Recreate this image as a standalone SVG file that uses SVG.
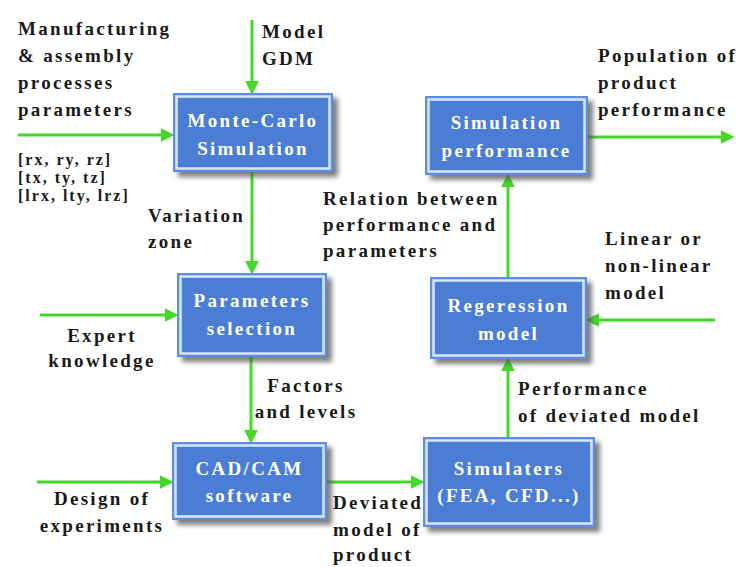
<svg xmlns="http://www.w3.org/2000/svg" width="736" height="567" viewBox="0 0 736 567">
<defs>
<style>
.t{font-family:"Liberation Serif","Times New Roman",serif;font-weight:bold;font-size:19px;fill:#1a1a1a;letter-spacing:2.3px}
.s{font-size:16px;letter-spacing:2px}
.m{text-anchor:middle}
.bt{font-family:"Liberation Serif","Times New Roman",serif;font-weight:bold;font-size:19px;fill:#ffffff;letter-spacing:2.3px;text-anchor:middle}
.o{fill:#5b8fe2}
.w{fill:none;stroke:#d6e5f8;stroke-width:2.5}
.i{fill:#4a7dd3}
.c{stroke:#44d82a;stroke-width:3;fill:none;marker-end:url(#ah)}
</style>
<filter id="sh" x="-10%" y="-10%" width="130%" height="140%">
<feDropShadow dx="5" dy="5" stdDeviation="2.5" flood-color="#555" flood-opacity="0.75"/>
</filter>
<marker id="ah" markerUnits="userSpaceOnUse" markerWidth="14" markerHeight="14" viewBox="0 0 12 12" refX="2" refY="6" orient="auto">
<path d="M0,0 L12,6 L0,12 z" fill="#44d82a"/>
</marker>
</defs>
<rect width="736" height="567" fill="#ffffff"/>

<g id="connectors">
<line class="c" x1="252" y1="20" x2="252" y2="83"/>
<line class="c" x1="18" y1="135" x2="163" y2="135"/>
<line class="c" x1="252" y1="172" x2="252" y2="263"/>
<line class="c" x1="40" y1="315" x2="167" y2="315"/>
<line class="c" x1="251" y1="357" x2="251" y2="432"/>
<line class="c" x1="37" y1="482" x2="162" y2="482"/>
<line class="c" x1="327" y1="482" x2="413" y2="482"/>
<line class="c" x1="508" y1="437" x2="508" y2="369"/>
<line class="c" x1="715" y1="320" x2="597" y2="320"/>
<line class="c" x1="508" y1="277" x2="508" y2="185"/>
<line class="c" x1="588" y1="137" x2="723" y2="137"/>
</g>

<g id="monte-carlo">
<g filter="url(#sh)"><rect class="o" x="173" y="93" width="160" height="79"/></g>
<rect class="w" x="176.5" y="96.5" width="153" height="72"/>
<rect class="i" x="178" y="98" width="150" height="69"/>
<text class="bt" x="253" y="127">Monte-Carlo</text>
<text class="bt" x="253" y="155">Simulation</text>
</g>

<g id="simulation-performance">
<g filter="url(#sh)"><rect class="o" x="425" y="96" width="163" height="79"/></g>
<rect class="w" x="428.5" y="99.5" width="156" height="72"/>
<rect class="i" x="430" y="101" width="153" height="69"/>
<text class="bt" x="506.5" y="129">Simulation</text>
<text class="bt" x="506.5" y="157">performance</text>
</g>

<g id="parameters-selection">
<g filter="url(#sh)"><rect class="o" x="177" y="273" width="150" height="84"/></g>
<rect class="w" x="180.5" y="276.5" width="143" height="77"/>
<rect class="i" x="182" y="278" width="140" height="74"/>
<text class="bt" x="252" y="307">Parameters</text>
<text class="bt" x="252" y="335">selection</text>
</g>

<g id="regression-model">
<g filter="url(#sh)"><rect class="o" x="430" y="277" width="157" height="82"/></g>
<rect class="w" x="433.5" y="280.5" width="150" height="75"/>
<rect class="i" x="435" y="282" width="147" height="72"/>
<text class="bt" x="508.5" y="312">Regeression</text>
<text class="bt" x="508.5" y="340">model</text>
</g>

<g id="cad-cam">
<g filter="url(#sh)"><rect class="o" x="172" y="442" width="155" height="78"/></g>
<rect class="w" x="175.5" y="445.5" width="148" height="71"/>
<rect class="i" x="177" y="447" width="145" height="68"/>
<text class="bt" x="249.5" y="475">CAD/CAM</text>
<text class="bt" x="249.5" y="502">software</text>
</g>

<g id="simulaters">
<g filter="url(#sh)"><rect class="o" x="423" y="437" width="172" height="90"/></g>
<rect class="w" x="426.5" y="440.5" width="165" height="83"/>
<rect class="i" x="428" y="442" width="162" height="80"/>
<text class="bt" x="509" y="475">Simulaters</text>
<text class="bt" x="509" y="502">(FEA, CFD...)</text>
</g>

<g id="labels">
<text class="t" x="18" y="35">Manufacturing</text>
<text class="t" x="18" y="62">&amp; assembly</text>
<text class="t" x="18" y="89">processes</text>
<text class="t" x="18" y="116">parameters</text>
<text class="t s" x="18" y="165">[rx, ry, rz]</text>
<text class="t s" x="18" y="183">[tx, ty, tz]</text>
<text class="t s" x="18" y="201">[lrx, lty, lrz]</text>
<text class="t" x="262" y="38">Model</text>
<text class="t" x="262" y="65">GDM</text>
<text class="t" x="148" y="222">Variation</text>
<text class="t" x="148" y="248">zone</text>
<text class="t m" x="102" y="342">Expert</text>
<text class="t m" x="102" y="367">knowledge</text>
<text class="t m" x="306" y="392">Factors</text>
<text class="t m" x="306" y="418">and levels</text>
<text class="t m" x="102" y="505">Design of</text>
<text class="t m" x="102" y="532">experiments</text>
<text class="t" x="333" y="509">Deviated</text>
<text class="t" x="333" y="536">model of</text>
<text class="t" x="333" y="561">product</text>
<text class="t" x="518" y="395">Performance</text>
<text class="t" x="518" y="422">of deviated model</text>
<text class="t" x="323" y="205">Relation between</text>
<text class="t" x="323" y="231">performance and</text>
<text class="t" x="323" y="257">parameters</text>
<text class="t" x="605" y="245">Linear or</text>
<text class="t" x="605" y="272">non-linear</text>
<text class="t" x="605" y="299">model</text>
<text class="t" x="598" y="62">Population of</text>
<text class="t" x="598" y="89">product</text>
<text class="t" x="598" y="116">performance</text>
</g>
</svg>
